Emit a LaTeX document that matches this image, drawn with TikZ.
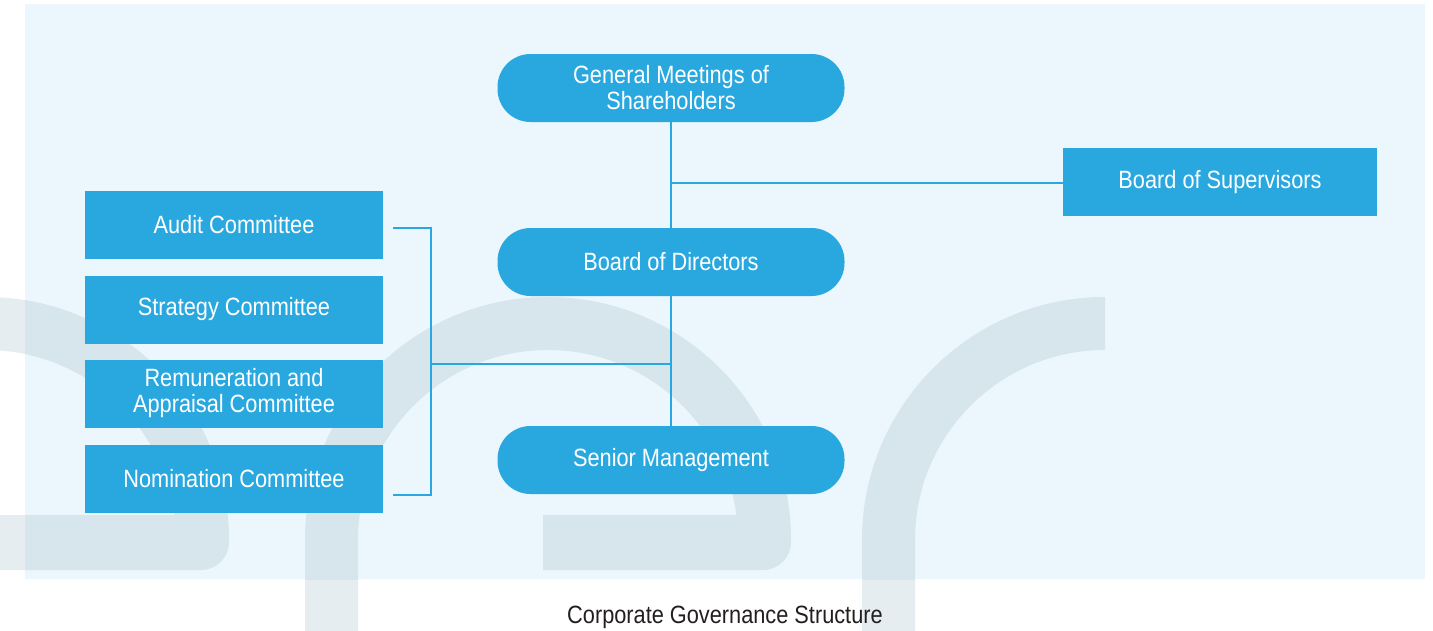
\documentclass[tikz,border=0pt]{standalone}
\usepackage{fontspec}
\setmainfont{Liberation Sans}[FakeStretch=0.87]
\definecolor{nodeblue}{RGB}{41,168,224}
\definecolor{panelblue}{RGB}{235,247,253}
\definecolor{bandin}{RGB}{214,230,236}
\definecolor{bandout}{RGB}{230,237,240}
\definecolor{captxt}{RGB}{35,31,32}
\newcommand{\drawwatermark}[1]{%
  % middle shape
  \fill[#1] (305,640) -- (305,540) arc[start angle=180,end angle=360,radius=243]
     -- (791,542) arc[start angle=0,end angle=90,radius=28]
     -- (543,570) -- (543,515) -- (738,515) -- (738,540)
     arc[start angle=0,end angle=-180,radius=190] -- (358,640) -- cycle;
  % left shape (same, shifted)
  \begin{scope}[xshift=-562pt]
  \fill[#1] (305,640) -- (305,540) arc[start angle=180,end angle=360,radius=243]
     -- (791,542) arc[start angle=0,end angle=90,radius=28]
     -- (543,570) -- (543,515) -- (738,515) -- (738,540)
     arc[start angle=0,end angle=-180,radius=190] -- (358,640) -- cycle;
  \end{scope}
  % right shape
  \fill[#1] (1105,297) -- (1105,350) arc[start angle=-90,end angle=-180,radius=190]
     -- (915,640) -- (862,640) -- (862,540)
     arc[start angle=180,end angle=270,radius=243] -- cycle;
}
\begin{document}
\begin{tikzpicture}[x=1pt,y=-1pt,
  boxfont/.style={font=\fontsize{25}{26}\selectfont},
  pill/.style={boxfont, fill=nodeblue, rounded corners=33pt, minimum width=347pt,
    minimum height=68pt, text=white, align=center, inner sep=0pt},
  sqbox/.style={boxfont, fill=nodeblue, minimum height=68pt, text=white,
    align=center, inner sep=0pt},
  cbox/.style={sqbox, minimum width=298pt},
  link/.style={draw=nodeblue, line width=2pt}]
\useasboundingbox (0,0) rectangle (1433,630);
\fill[white] (0,0) rectangle (1433,630);
\drawwatermark{bandout}
\fill[panelblue] (25,4) rectangle (1425,579);
\begin{scope}
  \clip (25,4) rectangle (1425,579);
  \drawwatermark{bandin}
\end{scope}

% nodes
\node[pill] (gm) at (671,88) {General Meetings of\\Shareholders};
\node[pill] (bod) at (671,262) {Board of Directors};
\node[pill] (sm) at (671,460) {Senior Management};
\node[sqbox, minimum width=314pt] (bos) at (1220,182) {Board of Supervisors};

\node[cbox] (audit) at (234,225) {Audit Committee};
\node[cbox] (strat) at (234,309.5) {Strategy Committee};
\node[cbox] (remun) at (234,393.5) {Remuneration and\\Appraisal Committee};
\node[cbox] (nomin) at (234,478.5) {Nomination Committee};

% connectors
\coordinate (j1) at (671,183);
\coordinate (btop) at (393,228);
\coordinate (btopc) at (431,228);
\coordinate (bbotc) at (431,495);
\coordinate (bbot) at (393,495);
\coordinate (bmid) at (431,364);

\draw[link] (gm.south) -- (bod.north);
\draw[link] (bod.south) -- (sm.north);
\draw[link] (j1) -- (j1 -| bos.west);
\draw[link] (btop) -- (btopc) -- (bbotc) -- (bbot);
\draw[link] (bmid) -- (bod.south |- bmid);

% caption
\node[boxfont, text=captxt, anchor=base, inner sep=0pt] (cap) at (725,623)
  {Corporate Governance Structure};
\end{tikzpicture}
\end{document}
